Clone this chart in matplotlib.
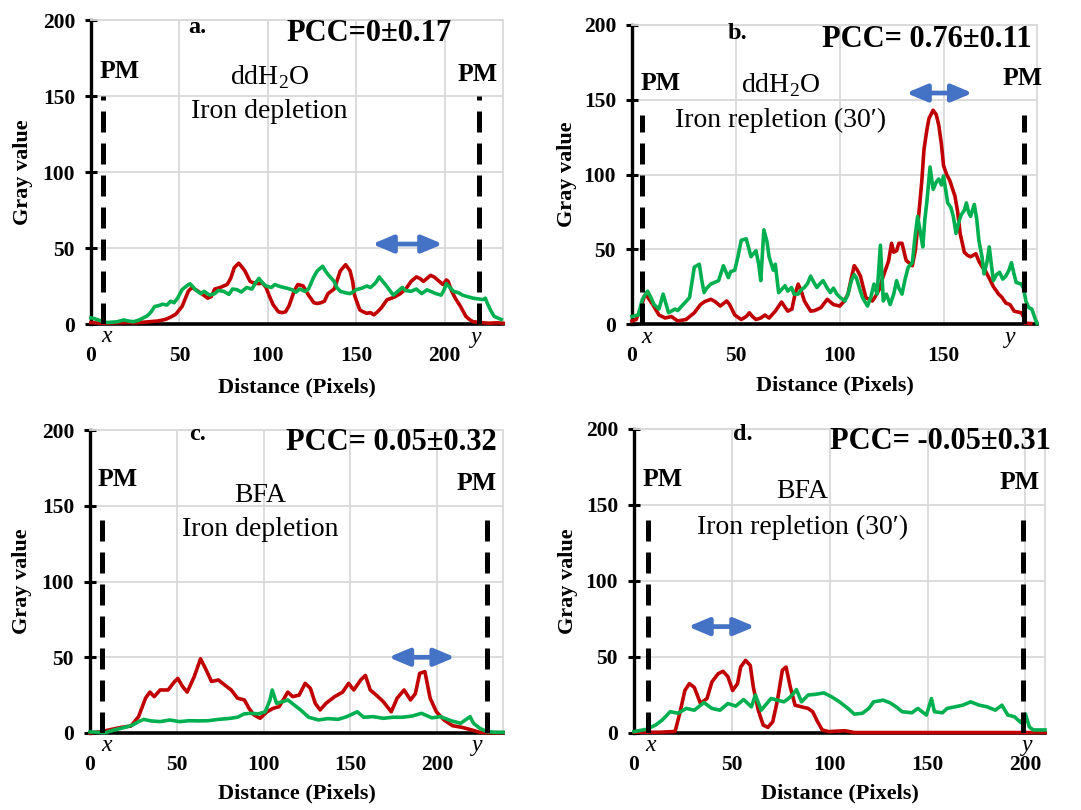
import matplotlib
matplotlib.use("Agg")
import matplotlib.pyplot as plt

plt.rcParams['font.family'] = ['Liberation Serif', 'DejaVu Serif']
plt.rcParams['mathtext.fontset'] = 'custom'
plt.rcParams['mathtext.rm'] = 'Liberation Serif'

# ---------------- data ----------------
# panel a : ddH2O, iron depletion
a_red_x = [0, 5, 10, 15, 20, 25, 30, 33, 38, 42, 45, 48, 51.5, 55, 57, 60, 62.5, 66, 68, 70, 73, 77, 79, 81,
           83.5, 85, 87, 90, 92, 95, 97, 99, 101, 103, 106, 108, 110, 112, 113.5, 115, 117, 120, 123, 126, 128,
           130, 132, 134, 137.5, 139, 141, 144, 146.5, 148, 149, 152, 154, 156, 158, 160, 162, 164, 167.5, 170,
           172, 175, 178, 181, 184, 186, 188, 190, 192, 194, 196, 199, 201, 202, 204, 206, 209, 212, 214, 216,
           220, 225, 230, 233]
a_red_y = [1, 0.5, 0.5, 0.8, 1, 0.8, 1.2, 1.5, 2, 3, 4.5, 6.5, 11.5, 21.5, 24, 22, 20, 17, 18, 23, 24, 26, 30, 37,
           40, 38, 35, 28, 27, 26.5, 27, 24, 18, 12.7, 8, 7.5, 8, 12, 17, 22, 26, 25, 19, 14, 13.5,
           14, 15, 20, 23, 28, 35, 39, 35, 28, 19, 9.3, 8, 7, 7.5, 6, 8, 10.4, 16, 17,
           18, 20, 23, 28, 31, 30, 28, 30, 32, 31, 29, 26, 29, 28, 21.5, 17, 11.5, 5, 3, 1.5,
           1, 0.5, 0.8, 0.5]
a_green_x = [0, 2, 4, 7, 9, 12, 15, 18.5, 21, 24, 27, 29.5, 32, 34, 36, 38, 40.5, 43, 45, 47, 49, 51.5, 54, 56,
             58, 59, 62, 64, 67, 70, 72, 75, 78, 80, 82.5, 85, 88, 91, 93, 95, 97, 99, 102, 104, 106, 109, 111,
             113.5, 116, 118, 121, 123, 124.5, 126, 128, 131, 132.5, 134, 136, 137.5, 139, 141, 144, 146.5, 148,
             150, 153, 156, 158, 160, 161.5, 163, 165, 166.5, 169, 171, 173, 176, 178, 181, 184, 187, 190, 192,
             195, 198, 199.5, 201, 203, 205, 208, 210, 213, 216, 219, 221.5, 223, 224, 226, 228, 230, 232]
a_green_y = [4, 3.5, 2.7, 1.5, 1, 1.2, 1.5, 2.7, 2, 1.5, 2.5, 4, 5.5, 8, 11.5, 12, 13, 12.5, 15, 14, 17, 22.6, 25, 26.5,
             24, 22.6, 20, 21.5, 19, 20, 22, 21.5, 19.5, 23, 22.6, 21, 24, 23, 27, 30, 27, 25, 24, 26, 25, 24, 23.5,
             22.6, 21, 23, 21.5, 23, 27, 31, 35, 38, 35, 32.6, 30, 28, 24, 21.5, 20.5, 20, 21,
             22.6, 23.5, 25, 24, 26, 28, 31, 28, 26, 22, 19, 21, 24, 22, 21.5, 23, 20, 22.5, 21.5,
             20, 19, 22, 26.5, 24, 21.5, 20.5, 19, 18, 17, 16.5, 16, 17, 14, 9, 5, 4, 3]

# panel b : ddH2O, iron repletion (30')
b_red_x = [0, 2, 4.4, 6, 6.7, 8, 10, 13, 16, 19, 22, 26, 30, 33, 35, 38, 40, 42.5, 45.6, 47, 49.5, 52.6, 55, 56.5,
           58, 59.7, 62, 64, 66, 69, 72, 75, 77, 78.5, 80, 81.5, 83, 86, 88, 91, 94, 97, 100, 102, 104, 105.5,
           107, 108.5, 110, 112.6, 115.7, 117, 119, 120.5, 122, 123.5, 125, 126, 127.4, 128.5, 130, 132, 135,
           136.5, 138, 139.5, 140.6, 142, 143, 145, 146.5, 147.7, 149, 150, 151.5, 153, 155.5, 156.8, 158, 160,
           161.5, 163, 165.6, 167, 168.7, 170, 172.6, 174, 176.5, 178, 180, 182, 184, 187.4, 188.5, 189, 192]
b_red_y = [2, 3, 11, 19, 20, 17, 13, 6, 4, 5, 2, 3, 7.5, 13, 15, 16.5, 15, 12, 15.4, 13, 6, 3, 5, 7.5,
           5, 3, 4, 6, 4, 8.6, 14.7, 8.6, 10, 20, 26.7, 22, 15.4, 8.6, 9, 11, 16.5, 13, 12, 15, 20, 30,
           39, 36, 32, 17.6, 15.4, 18, 23, 30, 36, 42, 54, 48, 49, 54, 54, 42.5, 39,
           50, 72, 95, 117, 130, 137.5, 143, 140, 133, 120, 106, 100, 96, 85.5, 75, 60.6, 48,
           46, 45, 47, 42, 38, 36, 29, 25, 20, 18, 14, 13, 8.6, 7.5, 5, 0.7, 0.3]
b_green_x = [0, 3, 5, 7.5, 9, 10.6, 13, 15, 17.6, 20.7, 22, 24.6, 27.7, 30, 32.4, 33.5, 34.7, 36, 37.9, 41.7, 44,
             46.4, 47.5, 49.5, 51, 52.6, 55, 57.3, 59.7, 61, 62, 63.5, 65, 66, 68, 69, 70.6, 73.7, 75, 76.8, 78,
             80, 81.5, 83, 84.5, 86, 87.5, 89, 90.5, 92, 94, 95.5, 97, 98.6, 100, 102.5, 104, 105.6, 107, 108,
             109.5, 111, 113.4, 115, 116.5, 118, 119.6, 121, 122.5, 124.3, 126, 127.4, 128.5, 130, 131.5, 133,
             135, 136, 137.5, 139, 140, 141, 142, 143.5, 145, 146.5, 147.7, 149, 150, 151, 152, 153.5, 154.7,
             156, 157.3, 158.5, 160, 161, 162, 163, 164.8, 166, 167, 168.5, 169.5, 171, 172, 173, 174, 175.5,
             177, 178.5, 180, 181.5, 182.7, 184, 185, 187.4, 188.5, 189.7, 191, 192.5, 194, 195]
b_green_y = [5, 6, 16.5, 22, 18, 13, 10, 20, 7.5, 10, 9, 13, 17.6, 38, 40, 30, 21, 24, 26.7, 29, 39,
             31, 35, 36, 45, 56, 57, 45, 49, 40, 29, 63, 55, 45, 36, 40, 21, 25.6, 22, 24.4, 20,
             20, 23, 24.4, 27, 32, 28, 24.4, 27, 29, 24, 21, 24, 20, 18, 15.4, 20, 29, 33, 31,
             24, 17.6, 12, 18, 26.7, 20, 52.7, 15.4, 20, 13, 20, 29, 24, 20, 30, 38,
             41, 55, 72, 60, 51.6, 70, 82, 105, 90, 95, 97, 93, 99, 90, 81, 78, 72,
             60.6, 68, 73, 76, 81, 75, 72, 80, 70, 56, 45, 33.5, 42, 51.6, 40, 29, 33,
             34.6, 30, 32, 36, 41, 33, 27.8, 26.7, 24, 15, 11, 10, 4, 0.5]

# panel c : BFA, iron depletion
c_red_x = [0, 7, 12.5, 18, 23.6, 28, 32, 34.5, 37, 40.4, 45, 48.8, 50.6, 53.4, 56, 60, 63.7, 66.5, 70, 74, 77.6,
           81.4, 85, 89, 91.6, 94.4, 98, 102, 105.6, 109, 114, 116.8, 120.5, 124, 127, 129.8, 132.6, 136, 141,
           145.6, 149, 152, 156, 158.7, 161.5, 165, 169, 173.6, 177, 181, 184.7, 187.5, 190, 193, 196, 199.6,
           204, 209, 214.5, 220, 224.8, 230, 238]
c_red_y = [0, 1, 2.4, 3.7, 4.6, 10.8, 23, 27, 24, 28.4, 28.4, 34, 36, 30.6, 27, 37, 49, 42.7, 34, 35, 31.7,
           28.4, 23, 21.8, 16.3, 12, 9.7, 14, 16.3, 17.4, 27, 24, 25, 32.8, 29.5, 19.6, 15.2, 19.6, 24,
           27, 32.8, 28.4, 35, 38, 28.4, 25, 20.7, 14, 23, 28.4, 21.8, 26, 39.4, 40.5, 23, 14,
           8.6, 4.8, 3.7, 2, 0.4, 0.2, 0.2]
c_green_x = [0, 8.8, 14, 20, 24.6, 28, 31, 35, 40.4, 46, 51.6, 57, 62.8, 68, 74, 79.5, 85, 88.8, 92.5, 97, 101,
             103.7, 105, 107.5, 111, 114, 117.7, 121.4, 126, 131.7, 137, 143, 148, 154, 157.7, 163, 169, 174.5,
             180, 185.7, 191, 197, 202, 208, 213.6, 219, 221, 224.8, 228.5, 233, 238]
c_green_y = [0.7, 0.2, 2, 3.7, 5.3, 7.5, 9, 8, 7.5, 8.6, 7.5, 8.1, 8, 8.1, 9, 9.5, 10.4, 12.6, 13, 12.6, 14,
             21.8, 28.4, 19.6, 20.7, 21.8, 18.5, 15.2, 10.4, 8.6, 9.5, 9, 10.8, 14, 10.4, 10.8, 9.7, 10.4,
             10.4, 11.2, 13, 10, 10.8, 8.1, 6.4, 10.8, 6.4, 3, 1, 0.5, 0.5]

# panel d : BFA, iron repletion (30')
d_red_x = [0, 13, 21, 23.4, 26, 28.3, 30.8, 34, 37.3, 39.8, 43, 45.5, 48, 50.4, 52.9, 54.5, 57, 59.4, 61, 63.5,
           66, 68.4, 70.9, 73.3, 75.8, 77.7, 79.9, 82.3, 85.6, 88.9, 91.3, 93.8, 96.2, 99.5, 107.7, 112.6, 210]
d_red_y = [0.5, 0.5, 1, 13, 28, 32.5, 30, 19.4, 22.7, 33.6, 39, 40.6, 37, 28, 32.5, 43.4, 47.8, 44.5, 30, 15,
           5.2, 3.7, 7.4, 21.6, 41.3, 43.4, 30, 18.3, 17.2, 16.2, 14, 7.4, 2, 0.9, 1.5, 0.3, 0.3]
d_green_x = [0, 6.2, 11, 14.4, 18.5, 22.6, 26.7, 30.8, 35.7, 39.8, 43.9, 48, 52, 56, 60, 62, 65, 70, 73.3, 76.6,
             79, 81.5, 83, 85.6, 89, 93, 97, 101, 105, 109.3, 112.6, 116.7, 120, 122.4, 127.3, 130.6, 134, 137,
             142, 145, 149.4, 152, 153.5, 157.6, 160, 164, 168, 172, 176.4, 180.5, 184.6, 188, 191, 194.4,
             197.7, 200, 202, 204, 210]
d_green_y = [0.9, 2.4, 5.2, 8.5, 14, 13, 16.2, 15, 20, 16.2, 15, 19.4, 17.7, 22, 17.2, 25, 15, 22.7, 21.6, 20.5,
             22.7, 26, 28.6, 20.5, 25, 25.5, 26.4, 23.8, 20.5, 16.2, 12.4, 13, 16.2, 20.5, 21.6, 20, 17.2, 14,
             13.3, 16.2, 11.8, 22.7, 14, 13.3, 16.2, 17.2, 18.3, 20.5, 18.3, 17.2, 15, 18.3, 11.8, 10.7,
             6.8, 12.5, 4, 2, 2]

letters = ['a.', 'b.', 'c.', 'd.']
pcc_labels = ['PCC=0\u00b10.17', 'PCC= 0.76\u00b10.11', 'PCC= 0.05\u00b10.32', 'PCC= -0.05\u00b10.31']
treatments = ['ddH$_2$O', 'ddH$_2$O', 'BFA', 'BFA']
conditions = ['Iron depletion', 'Iron repletion (30\u2032)', 'Iron depletion', 'Iron repletion (30\u2032)']
pm_x = [(7, 219.5), (5, 188.6), (7, 228.5), (7, 199)]
pm_top = [150, 140, 142, 143]
arrow_span = [(159, 199), (132, 164), (172, 210.4), (27.6, 61.8)]
x_ticks = [[0, 50, 100, 150, 200], [0, 50, 100, 150], [0, 50, 100, 150, 200], [0, 50, 100, 150, 200]]
y_ticks = [0, 50, 100, 150, 200]

series = [(a_red_x, a_red_y, a_green_x, a_green_y),
          (b_red_x, b_red_y, b_green_x, b_green_y),
          (c_red_x, c_red_y, c_green_x, c_green_y),
          (d_red_x, d_red_y, d_green_x, d_green_y)]

# ---------------- layout (pixels) ----------------
W, H = 1081, 810
boxes = [(91, 503, 20, 324), (632, 1037, 25, 324), (90, 503, 430, 733), (634, 1045, 429, 733)]
xmax = [233, 195, 238, 210]
# text positions in data coords
letter_pos = [(60, 195), (51, 194.6), (61.7, 196.7), (55.7, 196.7)]
pcc_pos = [(157.5, 191), (142, 190), (173.5, 192), (156.4, 192)]
pm_text = [((16, 166), (218.8, 164)), ((14, 161), (188, 164)), ((16, 167), (223, 165)), ((14.8, 167), (197, 165))]
treat_pos = [(101, 162.5), (71.6, 160), (98, 157), (86, 159)]
cond_pos = [(101, 139.5), (71.6, 136.5), (98, 134), (86, 135)]
arrow_y = [52.6, 154.5, 50, 70]
xy_lab = [((8.6, -8.5), (218, -9)), ((7, -8.7), (182, -9)), ((9.8, -8), (223, -8)), ((8.2, -8), (201, -8))]
ylab_off = [-58, -55, -58, -56]
xlab_off = [-53, -51, -50, -50]

RED = '#C00000'
GREEN = '#00B050'
BLUE = '#4472C4'
GRID = '#D9D9D9'

fig = plt.figure(figsize=(W / 100, H / 100), dpi=100)

for i in range(4):
    l, r, t, b = boxes[i]
    ax = fig.add_axes([l / W, 1 - b / H, (r - l) / W, (b - t) / H])
    wpx, hpx = r - l, b - t
    ax.set_xlim(0, xmax[i])
    ax.set_ylim(0, 200)
    ax.set_xticks(x_ticks[i])
    ax.set_yticks(y_ticks)
    ax.grid(True, color=GRID, lw=1.3)
    ax.set_axisbelow(True)
    for s in ['top', 'right']:
        ax.spines[s].set_color(GRID)
        ax.spines[s].set_linewidth(1.3)
    ax.spines['left'].set_linewidth(2.4)
    ax.spines['bottom'].set_linewidth(2.6)
    ax.spines['left'].set_zorder(2.5)
    ax.spines['bottom'].set_zorder(2.5)
    ax.tick_params(axis='y', direction='inout', length=9, width=2.2, pad=7, labelsize=15.5)
    ax.tick_params(axis='x', length=0, pad=16, labelsize=15.5)
    for lab in ax.get_xticklabels() + ax.get_yticklabels():
        lab.set_fontweight('bold')

    rx, ry, gx, gy = series[i]
    ax.plot(rx, ry, color=RED, lw=2.6, clip_on=False, zorder=3)
    ax.plot(gx, gy, color=GREEN, lw=2.6, clip_on=False, zorder=3.1)

    for px in pm_x[i]:
        ln, = ax.plot([px, px], [0, pm_top[i]], color='black', lw=3.6, zorder=4, solid_capstyle='butt')
        ln.set_dashes([4.2, 2.2])
        ln.set_dash_capstyle('butt')

    ax.set_ylabel('Gray value', fontsize=16, fontweight='bold')
    ax.yaxis.set_label_coords(ylab_off[i] / wpx, 0.5)
    ax.set_xlabel('Distance (Pixels)', fontsize=16, fontweight='bold')
    ax.xaxis.set_label_coords(0.5, xlab_off[i] / hpx)

    ax.text(*letter_pos[i], letters[i], fontsize=17.5, fontweight='bold', ha='center', va='center')
    ax.text(*pcc_pos[i], pcc_labels[i], fontsize=22, fontweight='bold', ha='center', va='center',
            clip_on=False)
    for pos in pm_text[i]:
        ax.text(*pos, 'PM', fontsize=18.5, fontweight='bold', ha='center', va='center')
    ax.text(*treat_pos[i], treatments[i], fontsize=20, ha='center', va='center')
    ax.text(*cond_pos[i], conditions[i], fontsize=20, ha='center', va='center')

    x0, x1 = arrow_span[i]
    ax.annotate('', xy=(x1, arrow_y[i]), xytext=(x0, arrow_y[i]),
                arrowprops=dict(arrowstyle='<|-|>,head_length=0.62,head_width=0.26',
                                color=BLUE, lw=3.4, mutation_scale=20, shrinkA=0, shrinkB=0))

    (xa, ya), (xb, yb) = xy_lab[i]
    ax.text(xa, ya, 'x', fontsize=17, style='italic', ha='center', va='center', clip_on=False)
    ax.text(xb, yb, 'y', fontsize=17, style='italic', ha='center', va='center', clip_on=False)

fig.savefig('out.png', dpi=100)
